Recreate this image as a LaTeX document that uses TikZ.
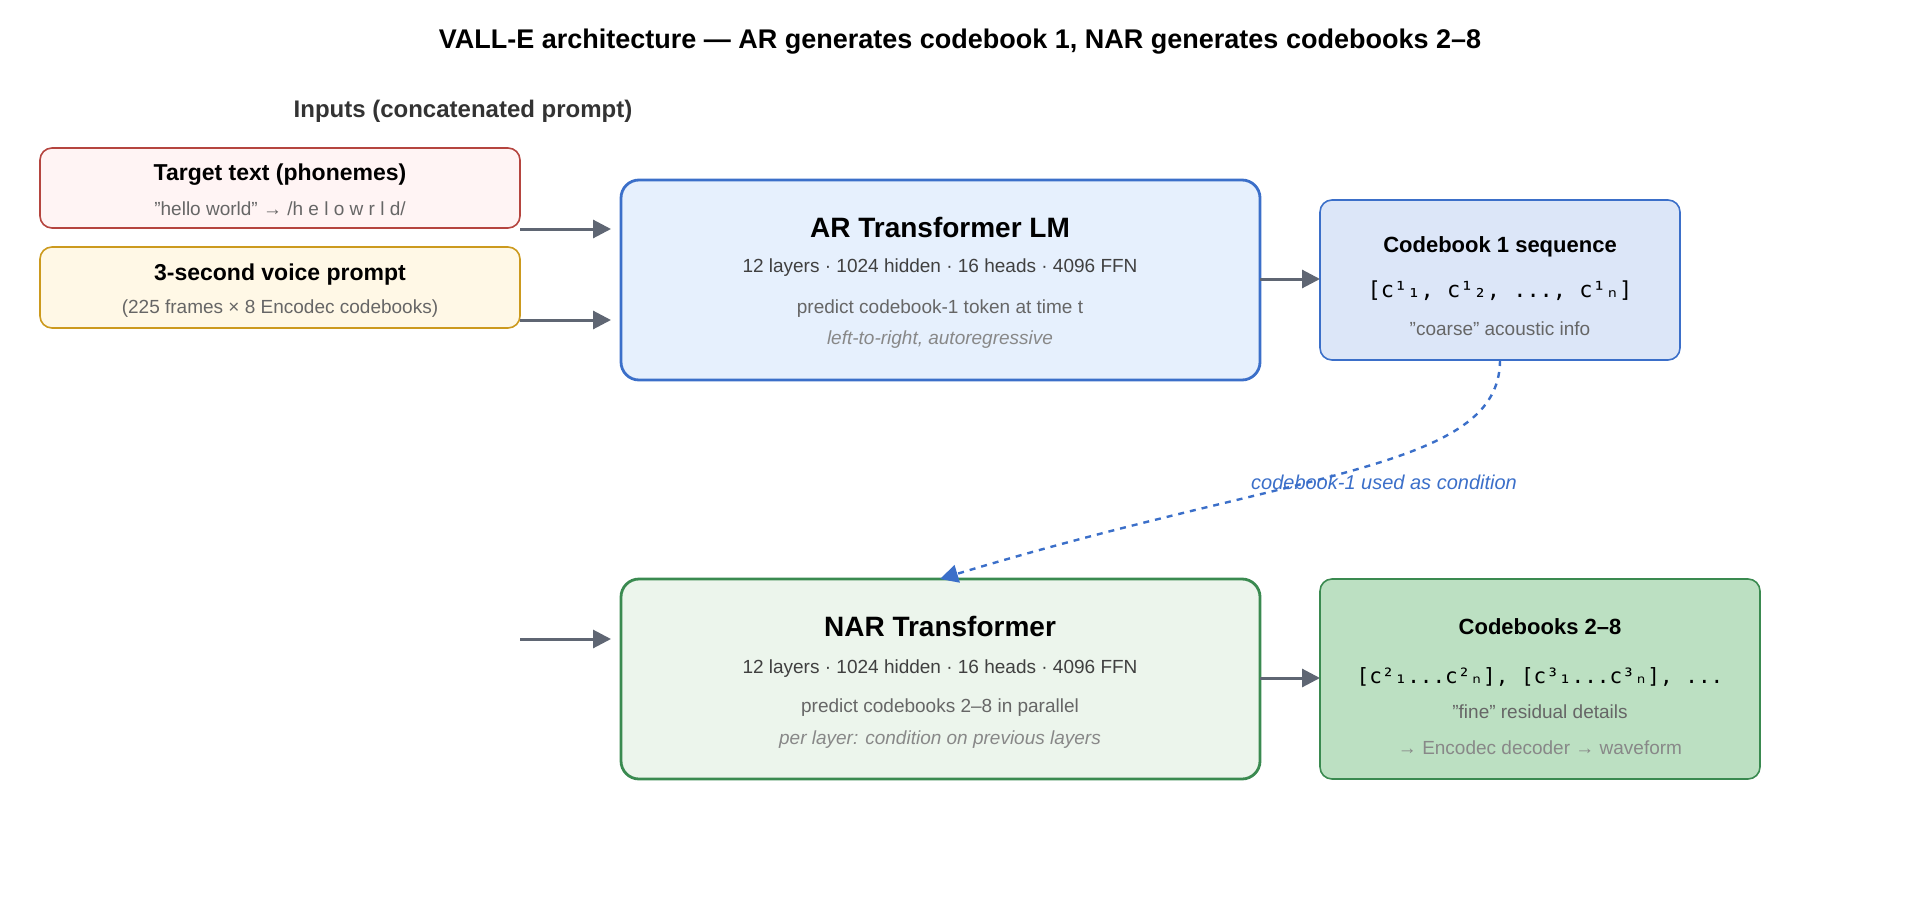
\documentclass[tikz,border=0pt]{standalone}
\usepackage{fontspec}
\setmainfont{Liberation Sans}
\setmonofont{DejaVu Sans Mono}
\usetikzlibrary{positioning,arrows.meta}
\definecolor{redline}{HTML}{B5453F}\definecolor{redfill}{HTML}{FFF4F4}
\definecolor{yelline}{HTML}{CC9A1E}\definecolor{yelfill}{HTML}{FFF8E6}
\definecolor{blueline}{HTML}{3B6FC9}\definecolor{bluefill}{HTML}{E6F0FD}
\definecolor{cbfill}{HTML}{DCE6F8}
\definecolor{greenline}{HTML}{3A8A50}\definecolor{greenfill}{HTML}{ECF5EC}
\definecolor{cbgreen}{HTML}{BCE0C2}
\definecolor{arrowgray}{HTML}{5F6673}
\definecolor{subgray}{HTML}{666666}\definecolor{notegray}{HTML}{888888}
\begin{document}
\begin{tikzpicture}
[x=0.5pt,y=-0.5pt,
 box/.style={draw,rounded corners=6pt,line width=0.8pt},
 bigbox/.style={draw,rounded corners=9pt,line width=1.4pt},
 arr/.style={-{Triangle[length=9pt,width=9pt]},arrowgray,line width=1.5pt},
 txt/.style={font=\fontsize{9.5}{11}\selectfont,text=subgray}]
\useasboundingbox (0,0) rectangle (1920,920);
\node[font=\fontsize{13.5}{16}\selectfont\bfseries] (title) at (960,42) {VALL-E architecture — AR generates codebook 1, NAR generates codebooks 2–8};
\node[font=\fontsize{12}{14}\selectfont\bfseries,text=black!80] (inputs) at (463,111) {Inputs (concatenated prompt)};
% input boxes
\draw[box,redline,fill=redfill] (40,148) rectangle (520,228);
\node[font=\fontsize{11.5}{14}\selectfont\bfseries] (tt) at (280,175) {Target text (phonemes)};
\node[txt] (tt2) at (280,209) {"hello world" → /h e l o w r l d/};
\draw[box,yelline,fill=yelfill] (40,247) rectangle (520,328);
\node[font=\fontsize{11.5}{14}\selectfont\bfseries] (vp) at (280,275) {3-second voice prompt};
\node[txt] (vp2) at (280,309) {(225 frames × 8 Encodec codebooks)};
% AR
\draw[bigbox,blueline,fill=bluefill] (621,180) rectangle (1260,380);
\node[font=\fontsize{14}{16}\selectfont\bfseries] (ar) at (940,227) {AR Transformer LM};
\node[txt,text=black!75] (ar2) at (940,268) {12 layers · 1024 hidden · 16 heads · 4096 FFN};
\node[txt] (ar3) at (940,309) {predict codebook-1 token at time t};
\node[txt,text=notegray,font=\fontsize{9.5}{11}\selectfont\itshape] (ar4) at (940,340) {left-to-right, autoregressive};
\draw[box,blueline,fill=cbfill] (1320,200) rectangle (1680,360);
\node[font=\fontsize{11}{13}\selectfont\bfseries] (cb1) at (1500,247) {Codebook 1 sequence};
\node[font=\fontsize{11}{13}\selectfont\ttfamily] (cb1b) at (1500,291) {[c¹₁, c¹₂, ..., c¹ₙ]};
\node[txt] (cb1c) at (1500,329) {"coarse" acoustic info};
% NAR
\draw[bigbox,greenline,fill=greenfill] (621,579) rectangle (1260,779);
\node[font=\fontsize{14}{16}\selectfont\bfseries] (nar) at (940,626) {NAR Transformer};
\node[txt,text=black!75] (nar2) at (940,669) {12 layers · 1024 hidden · 16 heads · 4096 FFN};
\node[txt] (nar3) at (940,708) {predict codebooks 2–8 in parallel};
\node[txt,text=notegray,font=\fontsize{9.5}{11}\selectfont\itshape] (nar4) at (940,740) {per layer: condition on previous layers};
\draw[box,greenline,fill=cbgreen] (1320,579) rectangle (1760,779);
\node[font=\fontsize{11}{13}\selectfont\bfseries] (cb2) at (1540,627) {Codebooks 2–8};
\node[font=\fontsize{10.5}{13}\selectfont\ttfamily] (cb2b) at (1540,677) {[c²₁...c²ₙ], [c³₁...c³ₙ], ...};
\node[txt] (cb2c) at (1540,712) {"fine" residual details};
\node[txt,text=notegray] (cb2d) at (1540,748) {→ Encodec decoder → waveform};
% connectors
\coordinate (in1) at (520,229); \coordinate (ar1) at (611,229);
\coordinate (in2) at (520,320); \coordinate (ar2in) at (611,320);
\coordinate (in3) at (520,639); \coordinate (narin) at (611,639);
\coordinate (arout) at (1260,279); \coordinate (cb1in) at (1320,279);
\coordinate (narout) at (1260,678); \coordinate (cb2in) at (1320,678);
\coordinate (cb1bot) at (1500,360); \coordinate (nartop) at (940,579);
\draw[arr] (in1) -- (ar1);
\draw[arr] (in2) -- (ar2in);
\draw[arr] (in3) -- (narin);
\draw[arr] (arout) -- (cb1in);
\draw[arr] (narout) -- (cb2in);
\draw[blueline,dashed,line width=1.2pt,-{Triangle[length=9pt,width=9pt]}] (cb1bot) .. controls (1500,470) and (1300,470) .. (nartop);
\node[font=\fontsize{10}{12}\selectfont\itshape,text=blueline] (cond) at (1384,482) {codebook-1 used as condition};
\end{tikzpicture}
\end{document}
